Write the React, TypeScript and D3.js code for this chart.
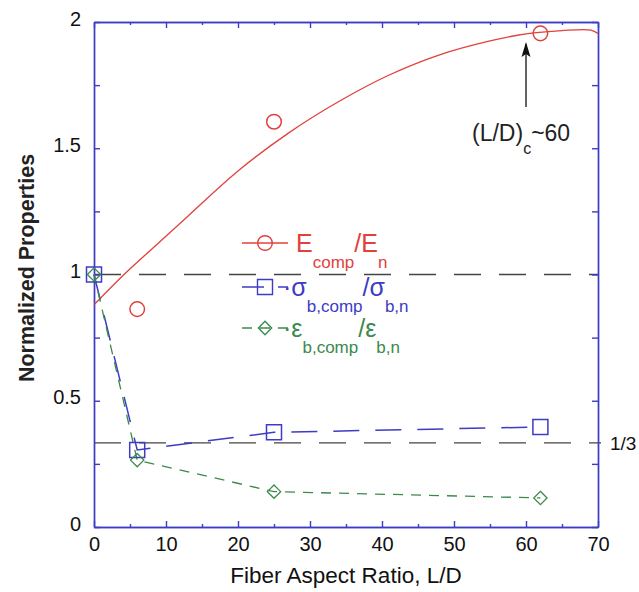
import React, { useEffect, useRef } from 'react';
import * as d3 from 'd3';

// measured points
const eRatioX = [6, 25, 62];
const eRatioY = [0.863, 1.605, 1.955];
// fitted curve
const eFitX = [0, 4, 8, 13, 20, 27, 34, 41, 48, 55, 60, 65, 69, 70];
const eFitY = [0.88, 0.995, 1.1, 1.23, 1.41, 1.56, 1.685, 1.79, 1.87, 1.925, 1.953, 1.966, 1.968, 1.955];

const sigmaX = [0, 6, 25, 62];
const sigmaY = [1.0, 0.305, 0.375, 0.396];

const epsX = [0, 6, 25, 62];
const epsY = [1.0, 0.265, 0.14, 0.115];

const refLines = [1, 1 / 3];
const xMajor = [0, 10, 20, 30, 40, 50, 60, 70];
const xMinor = [5, 15, 25, 35, 45, 55, 65];
const yMajor = [0, 0.5, 1, 1.5, 2];
const yMinor = [0.25, 0.75, 1.25, 1.75];

const RED = '#e0413d';
const BLUE = '#3c3cc4';
const GREEN = '#3b8a4c';
const FONT = '"Liberation Sans", Arial, Helvetica, sans-serif';

const App = () => {
  const chartRef = useRef<HTMLDivElement>(null);

  useEffect(() => {
    const W = 639, H = 592;
    const m = { top: 22, right: 41, bottom: 65, left: 94 };

    const root = d3.select(chartRef.current);
    root.selectAll('*').remove();
    const svg = root.append('svg')
      .attr('width', W)
      .attr('height', H)
      .style('position', 'absolute')
      .style('left', 0)
      .style('top', 0)
      .style('font-family', FONT);

    const x = d3.scaleLinear().domain([0, 70]).range([m.left, W - m.right]);
    const y = d3.scaleLinear().domain([0, 2]).range([H - m.bottom, m.top]);

    // reference lines
    refLines.forEach((v) => {
      svg.append('line')
        .attr('x1', x(0)).attr('x2', v === 1 ? x(70) : x(70) + 3)
        .attr('y1', y(v)).attr('y2', y(v))
        .attr('stroke', '#444').attr('stroke-width', 1.4)
        .attr('stroke-dasharray', '27,18');
    });
    svg.append('text')
      .attr('x', 610).attr('y', y(1 / 3) + 7)
      .attr('font-size', 19).attr('fill', '#111')
      .text('1/3');

    // axes (ticks inside)
    const styleAxis = (g: any) => {
      g.select('.domain').attr('stroke', BLUE).attr('stroke-width', 1.4);
      g.selectAll('.tick line').attr('stroke', BLUE).attr('stroke-width', 1.4);
      g.selectAll('.tick text').attr('font-size', 20).attr('font-family', FONT).attr('fill', '#111');
    };

    svg.append('g').attr('transform', `translate(0,${y(0)})`)
      .call(d3.axisBottom(x).tickValues(xMinor).tickSize(-3).tickFormat(() => '').tickSizeOuter(0))
      .call(styleAxis);
    svg.append('g').attr('transform', `translate(0,${y(0)})`)
      .call(d3.axisBottom(x).tickValues(xMajor).tickSize(-6).tickPadding(10).tickSizeOuter(0).tickFormat(d3.format('d')))
      .call(styleAxis);
    svg.append('g').attr('transform', `translate(0,${y(2)})`)
      .call(d3.axisTop(x).tickValues(xMinor).tickSize(-3).tickFormat(() => '').tickSizeOuter(0))
      .call(styleAxis);
    svg.append('g').attr('transform', `translate(0,${y(2)})`)
      .call(d3.axisTop(x).tickValues(xMajor).tickSize(-6).tickFormat(() => '').tickSizeOuter(0))
      .call(styleAxis);

    svg.append('g').attr('transform', `translate(${x(0)},0)`)
      .call(d3.axisLeft(y).tickValues(yMinor).tickSize(-6).tickFormat(() => '').tickSizeOuter(0))
      .call(styleAxis);
    const yl = svg.append('g').attr('transform', `translate(${x(0)},0)`)
      .call(d3.axisLeft(y).tickValues(yMajor).tickSize(-6).tickPadding(13).tickSizeOuter(0).tickFormat((d: any) => String(d)))
      .call(styleAxis);
    yl.selectAll('.tick text').attr('dy', '0.15em');
    svg.append('g').attr('transform', `translate(${x(70)},0)`)
      .call(d3.axisRight(y).tickValues(yMinor).tickSize(-6).tickFormat(() => '').tickSizeOuter(0))
      .call(styleAxis);
    svg.append('g').attr('transform', `translate(${x(70)},0)`)
      .call(d3.axisRight(y).tickValues(yMajor).tickSize(-6).tickFormat(() => '').tickSizeOuter(0))
      .call(styleAxis);

    const line = d3.line<[number, number]>().x(d => x(d[0])).y(d => y(d[1]));
    const smooth = d3.line<[number, number]>().x(d => x(d[0])).y(d => y(d[1])).curve(d3.curveCatmullRom);

    // E fit curve
    svg.append('path')
      .datum(eFitX.map((v, i) => [v, eFitY[i]] as [number, number]))
      .attr('d', smooth)
      .attr('fill', 'none').attr('stroke', RED).attr('stroke-width', 1.3);

    // sigma
    svg.append('path')
      .datum(sigmaX.map((v, i) => [v, sigmaY[i]] as [number, number]))
      .attr('d', line)
      .attr('fill', 'none').attr('stroke', BLUE).attr('stroke-width', 1.5)
      .attr('stroke-dasharray', '26,16');
    // epsilon
    svg.append('path')
      .datum(epsX.map((v, i) => [v, epsY[i]] as [number, number]))
      .attr('d', line)
      .attr('fill', 'none').attr('stroke', GREEN).attr('stroke-width', 1.3)
      .attr('stroke-dasharray', '10,8');

    const circle = d3.symbol().type(d3.symbolCircle).size(Math.PI * 7.3 * 7.3);
    const square = d3.symbol().type(d3.symbolSquare).size(15 * 15);
    const diamond = d3.symbol().type(d3.symbolDiamond2).size(2 * 7.5 * 7.5);

    svg.selectAll('.eDot').data(eRatioX).enter().append('path')
      .attr('transform', (d, i) => `translate(${x(d)},${y(eRatioY[i])})`)
      .attr('d', circle).attr('fill', 'none').attr('stroke', RED).attr('stroke-width', 1.5);
    svg.selectAll('.sDot').data(sigmaX).enter().append('path')
      .attr('transform', (d, i) => `translate(${x(d)},${y(sigmaY[i])})`)
      .attr('d', square).attr('fill', 'none').attr('stroke', BLUE).attr('stroke-width', 1.5);
    svg.selectAll('.dDot').data(epsX).enter().append('path')
      .attr('transform', (d, i) => `translate(${x(d)},${y(epsY[i])})`)
      .attr('d', diamond).attr('fill', 'none').attr('stroke', GREEN).attr('stroke-width', 1.3);

    // legend
    const leg = svg.append('g');
    const lx1 = 242, lx2 = 288, mx = 265;
    const rows = [
      { yy: 243, color: RED, dash: null, sym: circle, parts: [['E', 0], ['comp', 1], ['/E', 0], ['n', 1]] },
      { yy: 287, color: BLUE, dash: '22,14', sym: square, parts: [['·σ', 0], ['b,comp', 1], ['/σ', 0], ['b,n', 1]] },
      { yy: 328, color: GREEN, dash: '10,8', sym: diamond, parts: [['·ε', 0], ['b,comp', 1], ['/ε', 0], ['b,n', 1]] },
    ];
    rows.forEach((r) => {
      leg.append('line').attr('x1', lx1).attr('x2', lx2).attr('y1', r.yy).attr('y2', r.yy)
        .attr('stroke', r.color).attr('stroke-width', 1.4)
        .attr('stroke-dasharray', r.dash);
      leg.append('path').attr('transform', `translate(${mx},${r.yy})`).attr('d', r.sym as any)
        .attr('fill', 'none').attr('stroke', r.color).attr('stroke-width', 1.4);
      const t = leg.append('text').attr('x', r.dash ? 283 : 296).attr('y', r.yy + 9).attr('fill', r.color);
      r.parts.forEach(([s, sub]) => {
        t.append('tspan')
          .attr('font-size', sub ? 17 : 25)
          .attr('dy', sub ? 16 : -16)
          .text(s as string);
      });
      t.select('tspan').attr('dy', 0);
    });

    // annotation arrow
    svg.append('line')
      .attr('x1', x(60)).attr('x2', x(60)).attr('y1', 107).attr('y2', 44)
      .attr('stroke', '#111').attr('stroke-width', 1.3);
    svg.append('path').attr('d', `M${x(60)},42 l-4.5,15 l4.5,-3 l4.5,3 Z`).attr('fill', '#111');
    const at = svg.append('text').attr('x', 472).attr('y', 141).attr('fill', '#222').attr('font-size', 23);
    at.append('tspan').text('(L/D)');
    at.append('tspan').attr('font-size', 16).attr('dy', 13).text('c');
    at.append('tspan').attr('dy', -13).text('~60');

    // axis titles
    svg.append('text')
      .attr('x', (x(0) + x(70)) / 2).attr('y', 583)
      .attr('text-anchor', 'middle').attr('font-size', 22.5).attr('fill', '#111')
      .text('Fiber Aspect Ratio, L/D');
    svg.append('text')
      .attr('transform', `translate(34,268) rotate(-90)`)
      .attr('text-anchor', 'middle').attr('font-size', 21.5).attr('font-weight', 'bold').attr('fill', '#222')
      .text('Normalized Properties');

    return () => {
      root.selectAll('*').remove();
    };
  }, []);

  return <div ref={chartRef}></div>;
};

export default App;
